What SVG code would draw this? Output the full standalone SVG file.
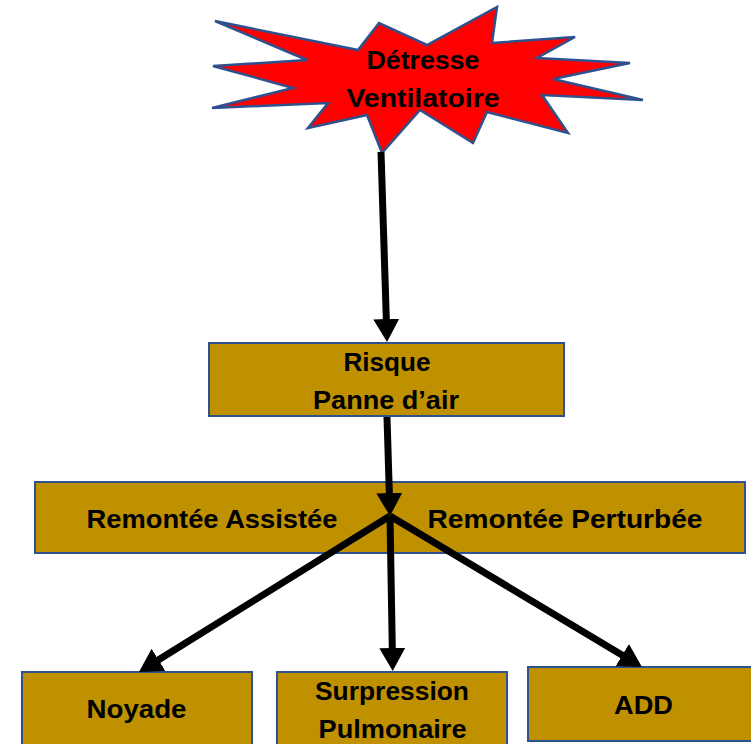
<svg xmlns="http://www.w3.org/2000/svg" width="751" height="744" viewBox="0 0 751 744">
<style>
.box{fill:#BF9000;stroke:#2F528F;stroke-width:2}
.star{fill:#FF0000;stroke:#2F528F;stroke-width:2.5;stroke-linejoin:miter}
.t{font-family:"Liberation Sans",Arial,sans-serif;font-weight:bold;font-size:26px;fill:#000;text-anchor:middle}
.c{stroke:#000;stroke-width:7;fill:none}
</style>
<defs>
<marker id="ah" markerUnits="userSpaceOnUse" markerWidth="26" markerHeight="28" refX="6" refY="13" orient="auto">
<path d="M0,0 L23,13 L0,26 z" fill="#000"/>
</marker>
</defs>
<rect width="751" height="744" fill="#fff"/>
<g id="detresse">
<polygon class="star" points="215,21 358,50 379,23 427,45 497,7 492,43 575,37 537,58 630,63 553,79 643,100 542,95 568,133 487,112 473,143 420,110 382,153 367,115 308,128 328,103 212,108 293,88 213,66 307,60"/>
<text class="t" x="423" y="69" textLength="113" lengthAdjust="spacingAndGlyphs">Détresse</text>
<text class="t" x="423" y="107" textLength="153" lengthAdjust="spacingAndGlyphs">Ventilatoire</text>
</g>
<g id="risque">
<rect class="box" x="209" y="343" width="355" height="73"/>
<text class="t" x="387" y="371" textLength="87" lengthAdjust="spacingAndGlyphs">Risque</text>
<text class="t" x="386" y="409" textLength="146" lengthAdjust="spacingAndGlyphs">Panne d’air</text>
</g>
<g id="remontee">
<rect class="box" x="35" y="482" width="710" height="71"/>
<text class="t" x="212" y="528" textLength="251" lengthAdjust="spacingAndGlyphs">Remontée Assistée</text>
<text class="t" x="565" y="528" textLength="275" lengthAdjust="spacingAndGlyphs">Remontée Perturbée</text>
</g>
<g id="noyade">
<rect class="box" x="22" y="672" width="230" height="80"/>
<text class="t" x="136.5" y="718" textLength="100" lengthAdjust="spacingAndGlyphs">Noyade</text>
</g>
<g id="surpression">
<rect class="box" x="277" y="672" width="230" height="80"/>
<text class="t" x="392" y="700" textLength="154" lengthAdjust="spacingAndGlyphs">Surpression</text>
<text class="t" x="392.5" y="738" textLength="148" lengthAdjust="spacingAndGlyphs">Pulmonaire</text>
</g>
<g id="add">
<rect class="box" x="528" y="667" width="240" height="74"/>
<text class="t" x="643.5" y="714" textLength="59" lengthAdjust="spacingAndGlyphs">ADD</text>
</g>
<g id="connectors">
<line class="c" x1="381" y1="152" x2="386.5" y2="325" marker-end="url(#ah)"/>
<line class="c" x1="387" y1="417" x2="389.5" y2="499" marker-end="url(#ah)"/>
<line class="c" x1="390" y1="516" x2="153.4" y2="663" marker-end="url(#ah)"/>
<line class="c" x1="390" y1="516" x2="392.4" y2="654" marker-end="url(#ah)"/>
<line class="c" x1="390" y1="516" x2="627.4" y2="658.3" marker-end="url(#ah)"/>
</g>
</svg>
